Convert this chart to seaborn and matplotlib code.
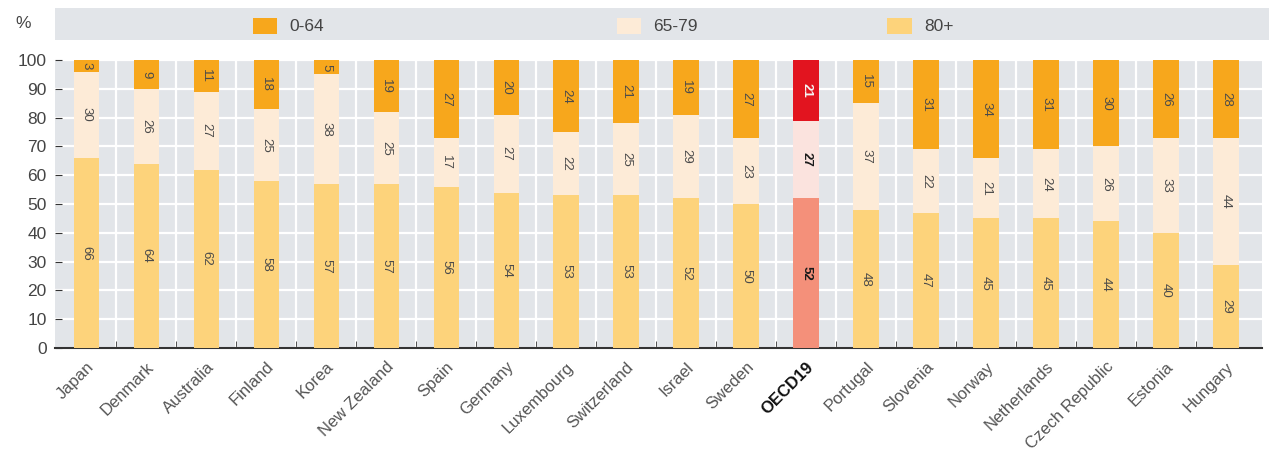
import numpy as np
import pandas as pd
import matplotlib
matplotlib.use("Agg")
import matplotlib.pyplot as plt
from matplotlib.patches import Rectangle
import seaborn as sns

# data
countries = ["Japan", "Denmark", "Australia", "Finland", "Korea", "New Zealand",
             "Spain", "Germany", "Luxembourg", "Switzerland", "Israel", "Sweden",
             "OECD19", "Portugal", "Slovenia", "Norway", "Netherlands",
             "Czech Republic", "Estonia", "Hungary"]
age_80plus = [66, 64, 62, 58, 57, 57, 56, 54, 53, 53, 52, 50, 52, 48, 47, 45, 45, 44, 40, 29]
age_65_79 = [30, 26, 27, 25, 38, 25, 17, 27, 22, 25, 29, 23, 27, 37, 22, 21, 24, 26, 33, 44]
age_0_64 = [3, 9, 11, 18, 5, 19, 27, 20, 24, 21, 19, 27, 21, 15, 31, 34, 31, 30, 26, 28]
total_share = [100] * len(countries)  # shares add to 100% (labels are rounded)
series_names = ["0-64", "65-79", "80+"]

df = pd.DataFrame({"country": countries, "a80": age_80plus,
                   "a65": age_65_79, "a0": age_0_64, "total": total_share})
df["c2"] = df["a80"] + df["a65"]

c_top, c_mid, c_bot = "#F7A71C", "#FDEBD7", "#FDD37B"
o_top, o_mid, o_bot = "#E2141F", "#FBE3DE", "#F4907A"
highlight = "OECD19"

def pal(normal, special):
    return {c: (special if c == highlight else normal) for c in countries}

plt.rcParams["font.family"] = ["Liberation Sans", "DejaVu Sans"]

fig = plt.figure(figsize=(12.69, 4.57), dpi=100)
ax = fig.add_axes([0.0433, 0.2385, 0.9512, 0.630])
ax.set_facecolor("#E2E5E9")

w = 0.42
sns.barplot(data=df, x="country", y="total", hue="country", palette=pal(c_top, o_top),
            width=w, legend=False, ax=ax, saturation=1, zorder=3)
sns.barplot(data=df, x="country", y="c2", hue="country", palette=pal(c_mid, o_mid),
            width=w, legend=False, ax=ax, saturation=1, zorder=3)
sns.barplot(data=df, x="country", y="a80", hue="country", palette=pal(c_bot, o_bot),
            width=w, legend=False, ax=ax, saturation=1, zorder=3)

# segment labels
for i, row in df.iterrows():
    bold = row["country"] == highlight
    segs = [(row["a80"], row["a80"] / 2, "#1a1a1a"),
            (row["a65"], row["a80"] + row["a65"] / 2, "#1a1a1a"),
            (row["a0"], (row["c2"] + row["total"]) / 2, "#f5f5f5")]
    for val, mid, bcol in segs:
        ax.text(i, mid, str(val), rotation=270, ha="center", va="center",
                fontsize=9.5, color=bcol if bold else "#4a4a4a",
                fontweight="bold" if bold else "normal", zorder=4)

ax.set_ylim(0, 100)
ax.set_xlim(-0.52, 19.6)
ax.set_yticks(np.arange(0, 101, 10))
ax.set_xticks(np.arange(len(countries)))
ax.set_xticks(np.arange(len(countries) - 1) + 0.5, minor=True)
ax.set_xticklabels(countries, rotation=45, ha="right", rotation_mode="anchor")
for lab in ax.get_xticklabels():
    if lab.get_text() == highlight:
        lab.set_fontweight("bold")
        lab.set_color("#111111")
    else:
        lab.set_color("#555555")
ax.tick_params(axis="x", which="major", length=0, labelsize=12, pad=8)
ax.tick_params(axis="x", which="minor", length=5, direction="in", color="#333333")
ax.tick_params(axis="y", length=5, direction="in", color="#333333",
               labelsize=12.5, labelcolor="#444444", pad=6)
ax.grid(axis="y", color="white", linewidth=1.6, zorder=0)
ax.grid(axis="x", which="minor", color="white", linewidth=1.6, zorder=0)
ax.set_axisbelow(True)
for s in ["top", "right", "left"]:
    ax.spines[s].set_visible(False)
ax.spines["bottom"].set_color("#333333")
ax.spines["bottom"].set_linewidth(1.5)
ax.set_xlabel("")
ax.set_ylabel("")

# legend band
fig.patches.append(Rectangle((0.0433, 0.912), 0.9567, 0.07, transform=fig.transFigure,
                             facecolor="#E2E5E9", edgecolor="none", zorder=0))
leg_x = [0.199, 0.486, 0.699]
for x, name, col in zip(leg_x, series_names, [c_top, c_mid, c_bot]):
    fig.patches.append(Rectangle((x, 0.925), 0.0195, 0.035, transform=fig.transFigure,
                                 facecolor=col, edgecolor="none", zorder=1))
    fig.text(x + 0.029, 0.943, name, fontsize=12.5, color="#444444", va="center")
fig.text(0.012, 0.948, "%", fontsize=12.5, color="#444444", va="center")

fig.savefig("out.png", dpi=100)
